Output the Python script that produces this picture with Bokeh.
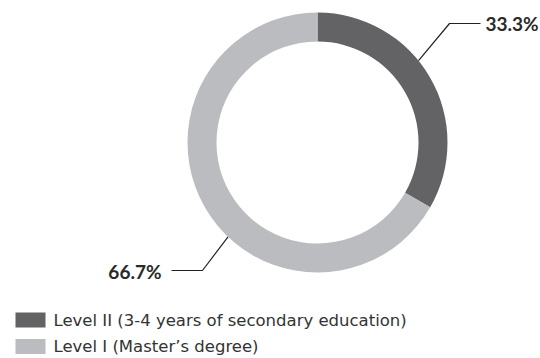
import math
from bokeh.plotting import figure
from bokeh.models import ColumnDataSource
from bokeh.core.properties import value
from bokeh.embed import file_html
from bokeh.resources import INLINE

# Data
categories = ["Level II (3-4 years of secondary education)", "Level I (Master\u2019s degree)"]
shares = [33.3, 66.7]
share_labels = ["33.3%", "66.7%"]
colors = ["#636365", "#bbbcbf"]

W, H = 540, 358
p = figure(width=W, height=H, x_range=(0, W), y_range=(0, H),
           output_backend="svg", toolbar_location=None, min_border=0)
p.axis.visible = False
p.grid.visible = False
p.outline_line_color = None
p.background_fill_color = "white"
p.border_fill_color = "white"


def fy(y):
    # layout positions are measured from the top edge
    return H - y


cx, cy = 317, fy(142)
r_in, r_out = 101, 130

# slices start at 12 o'clock and run clockwise
total = sum(shares)
starts, ends = [], []
acc = 0.0
for s in shares:
    starts.append(math.pi / 2 - 2 * math.pi * acc / total)
    acc += s
    ends.append(math.pi / 2 - 2 * math.pi * acc / total)

src = ColumnDataSource(dict(start=starts, end=ends, color=colors))
p.annular_wedge(x=cx, y=cy, inner_radius=r_in, outer_radius=r_out,
                start_angle="start", end_angle="end", color="color",
                direction="clock", source=src, line_color=None)

# leader lines
a1, a2 = math.radians(39), math.radians(226.5)
lead_x = [[cx + r_out * math.cos(a1), 449, 480],
          [cx + r_out * math.cos(a2), 202, 171]]
lead_y = [[cy + r_out * math.sin(a1), fy(23), fy(23)],
          [cy + r_out * math.sin(a2), fy(270), fy(270)]]
p.multi_line(xs=lead_x, ys=lead_y, line_color="#222222", line_width=1.2)

# value labels
p.text(x=[485], y=[fy(23)], text=[share_labels[0]], text_font=value("Lato"),
       text_font_style="bold", text_font_size="19px", text_color="#2a2a2a",
       text_align="left", text_baseline="middle")
p.text(x=[161], y=[fy(271)], text=[share_labels[1]], text_font=value("Lato"),
       text_font_style="bold", text_font_size="19px", text_color="#2a2a2a",
       text_align="right", text_baseline="middle")

# legend
leg_y = [fy(319.5), fy(346)]
p.rect(x=[30, 30], y=leg_y, width=30, height=15, color=colors, line_color=None)
p.text(x=[53, 53], y=leg_y, text=categories, text_font=value("DejaVu Sans"),
       text_font_size="16.5px", text_color="#333333",
       text_align="left", text_baseline="middle")

open("out.html", "w").write(file_html(p, INLINE))
